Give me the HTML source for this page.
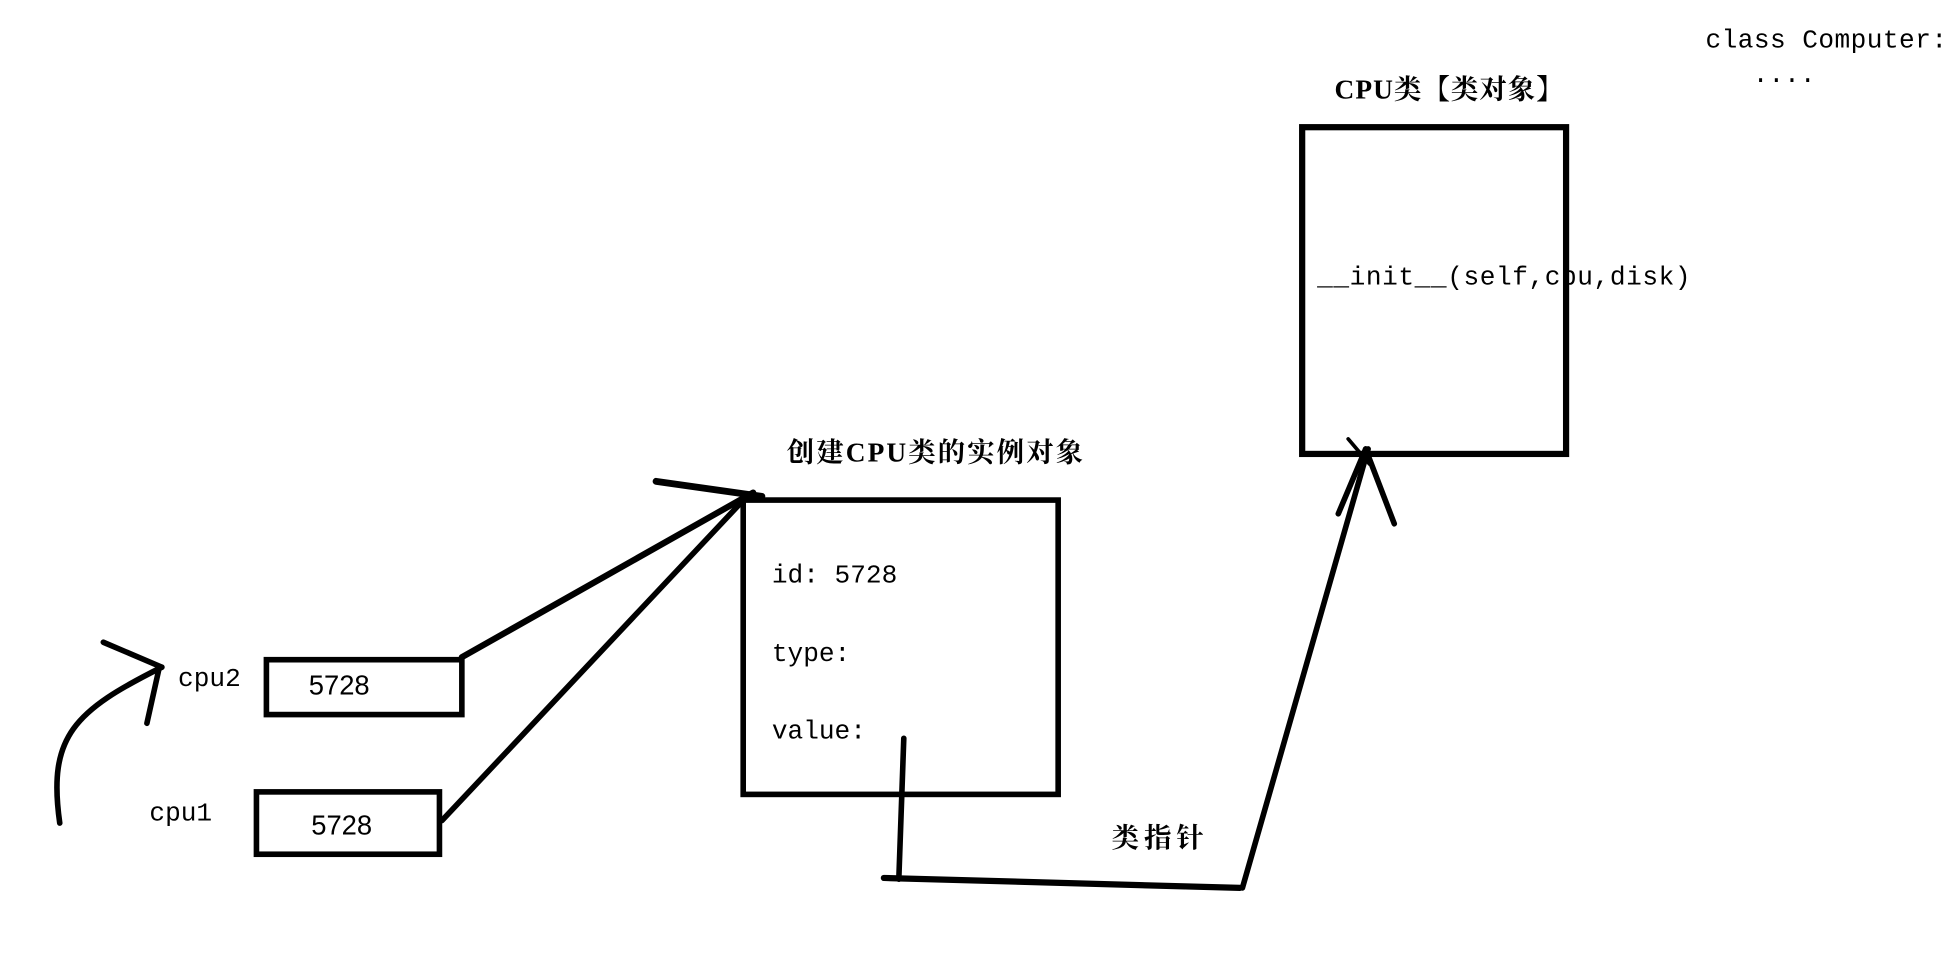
<!DOCTYPE html>
<html><head><meta charset="utf-8"><style>
html,body{margin:0;padding:0;background:#fff;width:1952px;height:959px;overflow:hidden}
svg{display:block}
.m{font-family:"Liberation Mono","Noto Sans CJK SC",monospace;font-size:21px;fill:#000}
.c{font-family:"Liberation Serif","Noto Serif CJK SC",serif;font-size:22px;fill:#000;font-weight:bold}
.s{font-family:"Liberation Sans",sans-serif;font-size:22px;fill:#000}
</style></head><body>
<svg width="1952" height="959" viewBox="0 0 1568 769" preserveAspectRatio="none" xmlns="http://www.w3.org/2000/svg">
<g fill="none" stroke="#000" stroke-linecap="round">
<rect x="1046" y="102" width="212" height="262" stroke-width="5"/>
<rect x="597" y="401" width="253" height="236" stroke-width="4.5"/>
<rect x="214" y="529" width="157" height="44" stroke-width="4.5"/>
<rect x="206" y="635" width="147" height="50" stroke-width="4.5"/>
<line x1="371" y1="527" x2="605" y2="395" stroke-width="5"/>
<line x1="355" y1="658" x2="600" y2="398" stroke-width="4.5"/>
<line x1="527" y1="386" x2="612" y2="398" stroke-width="5.5"/>
<path d="M48,660 C38,590 60,570 130,535" stroke-width="4.5"/>
<line x1="83" y1="515" x2="130" y2="535" stroke-width="4.5"/>
<line x1="118" y1="580" x2="128" y2="535" stroke-width="4.5"/>
<line x1="726" y1="592" x2="722" y2="705" stroke-width="4.5"/>
<line x1="710" y1="704" x2="996" y2="712" stroke-width="5"/>
<line x1="998" y1="712" x2="1099" y2="360" stroke-width="4.5"/>
<line x1="1075" y1="412" x2="1097" y2="360" stroke-width="4.5"/>
<line x1="1120" y1="420" x2="1097" y2="360" stroke-width="4.5"/>
<line x1="1083" y1="352" x2="1100" y2="372" stroke-width="3"/>
</g>
<text class="m" x="1370" y="38" textLength="194">class Computer:</text>
<text class="m" x="1408" y="70">····</text>
<text class="c" x="1072" y="79" textLength="184">CPU类【类对象】</text>
<text class="m" x="1058" y="228" textLength="300">__init__(self,cpu,disk)</text>
<text class="c" x="632" y="370" textLength="238">创建CPU类的实例对象</text>
<text class="m" x="620" y="467">id: 5728</text>
<text class="m" x="620" y="530">type:</text>
<text class="m" x="620" y="592">value:</text>
<text class="c" x="893" y="679" textLength="74">类指针</text>
<text class="m" x="143" y="550">cpu2</text>
<text class="m" x="120" y="658">cpu1</text>
<text class="s" x="248" y="557">5728</text>
<text class="s" x="250" y="669">5728</text>
</svg>
</body></html>
